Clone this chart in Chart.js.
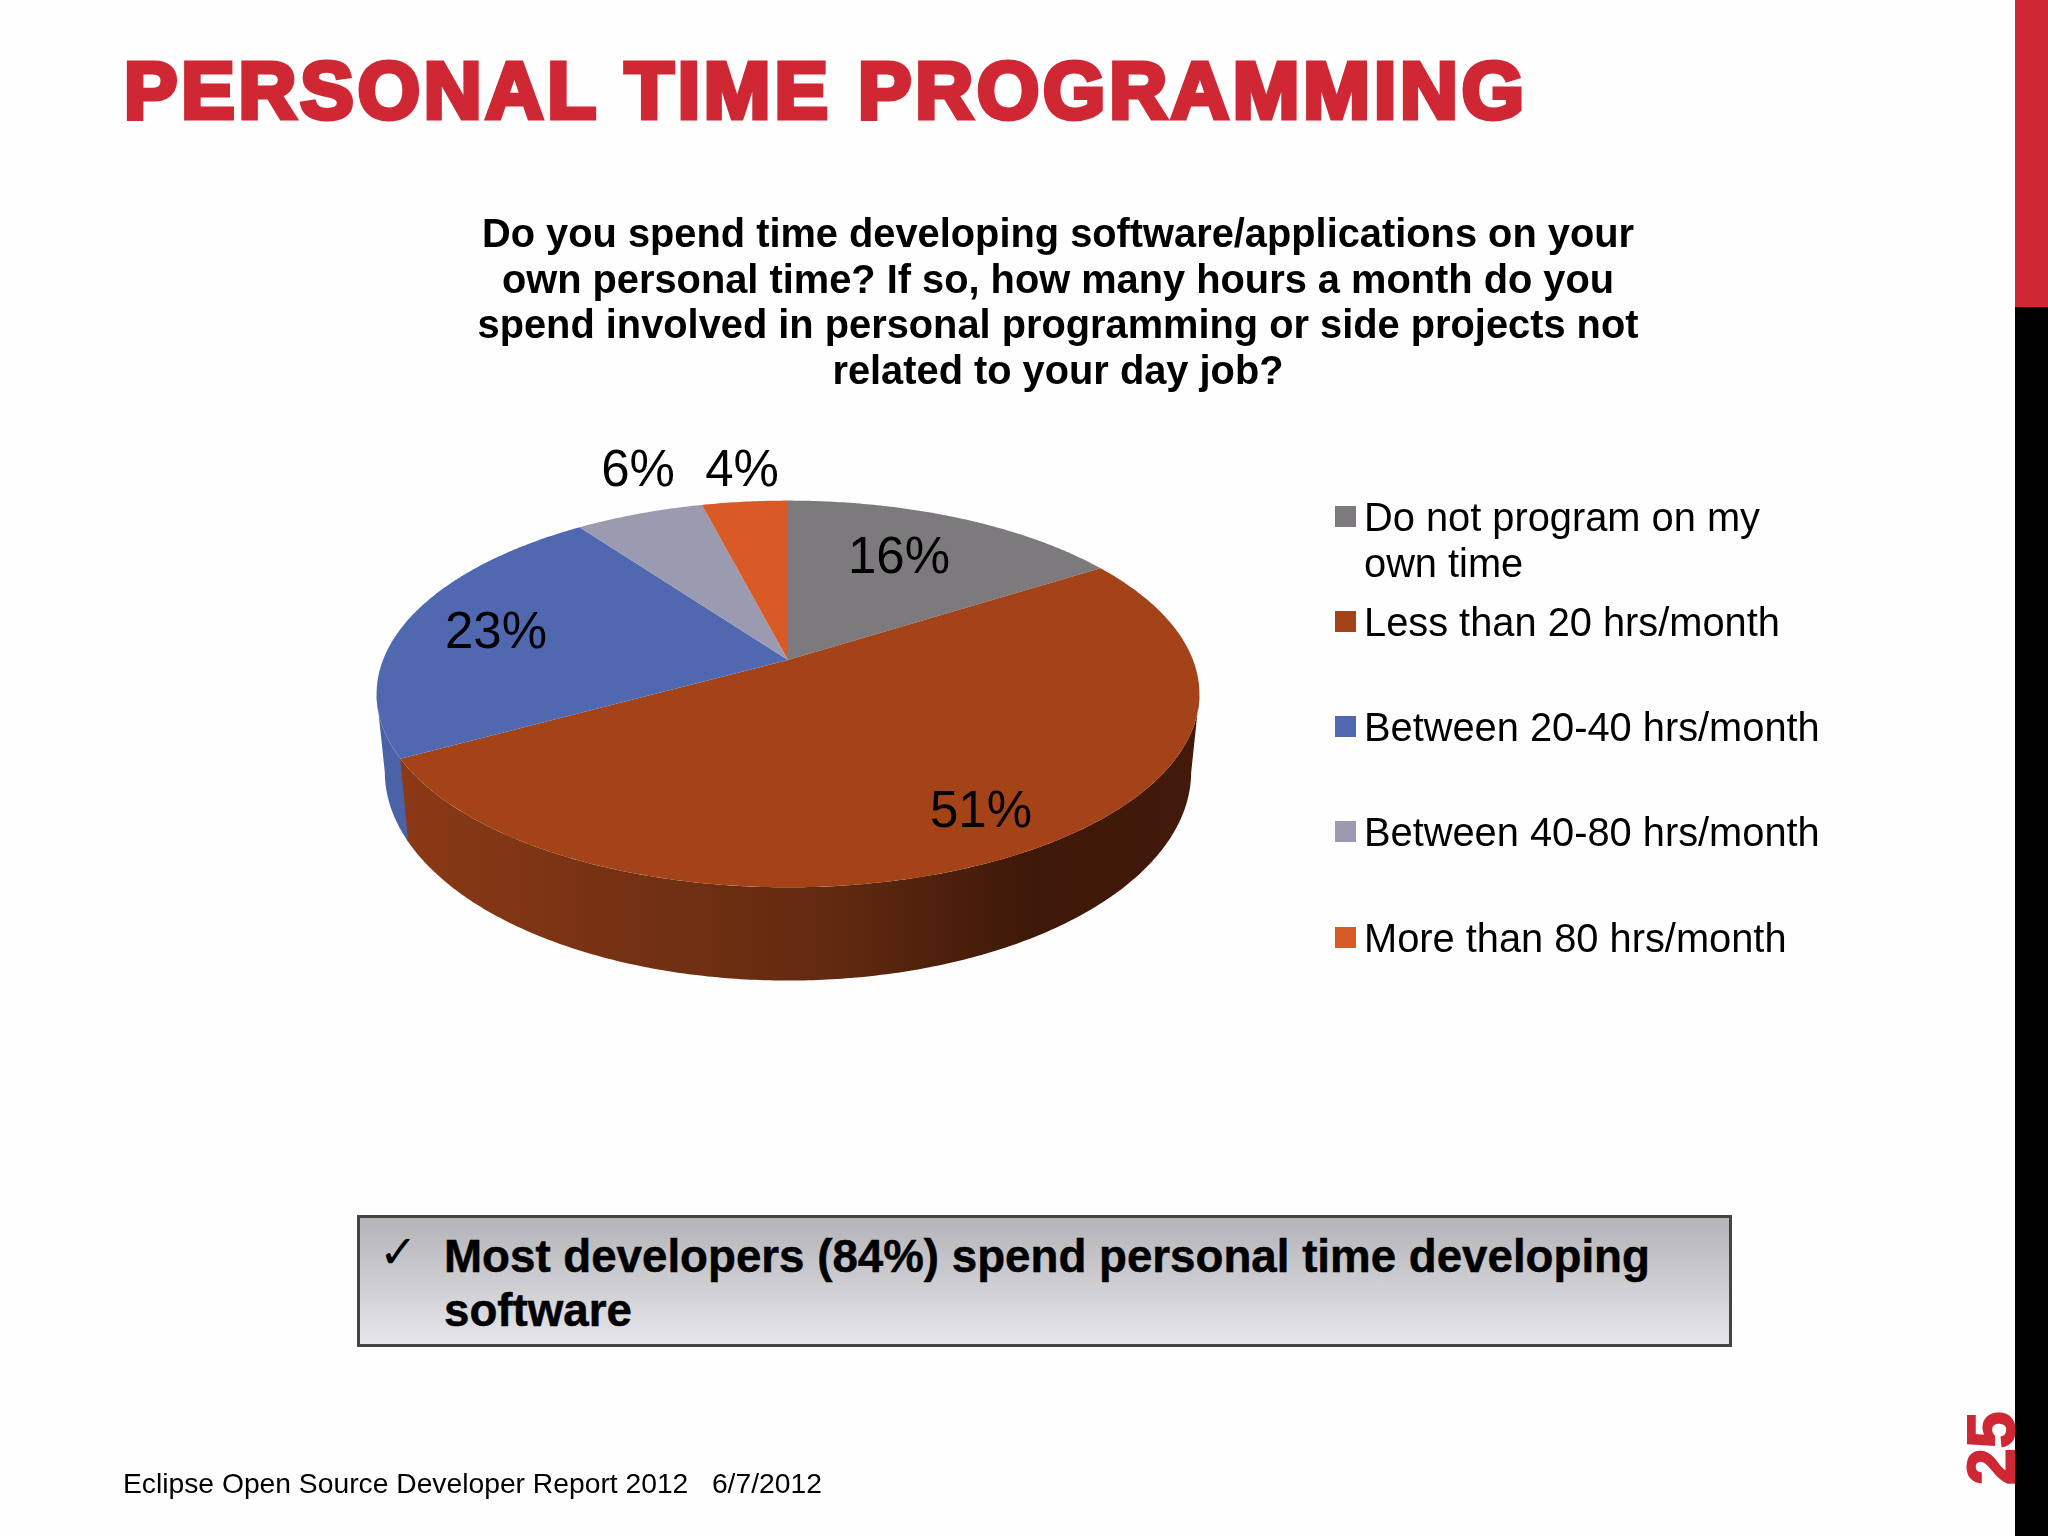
<!DOCTYPE html>
<html lang="en">
<head>
  <meta charset="UTF-8" />
  <title>Personal Time Programming</title>
  <script src="https://cdn.jsdelivr.net/npm/chart.js"></script>
  <style>
    html, body { margin: 0; padding: 0; background: #fefefe; }
    #page { position: relative; width: 2048px; height: 1536px; overflow: hidden; font-family: "Liberation Sans", Arial, sans-serif; color: #000; }
    #page > * { position: absolute; }
    canvas { left: 0; top: 0; }
    h1 { left: 124px; top: 46px; margin: 0; font-size: 80px; line-height: 90px; font-weight: 900; color: #cf2733; white-space: nowrap; -webkit-text-stroke: 5px #cf2733; letter-spacing: 3.95px; }
    #question { left: 458px; top: 211px; width: 1200px; text-align: center; font-size: 39.8px; line-height: 45.7px; font-weight: bold; }
    .legend-row { left: 1335px; font-size: 39.8px; line-height: 46px; white-space: nowrap; }
    .legend-box { position: absolute; left: 0; top: 12px; width: 21px; height: 21px; }
    .legend-row span { display: block; margin-left: 29px; }
    #note { left: 357px; top: 1215px; width: 1375px; height: 132px; box-sizing: border-box; border: 3px solid #444; background: linear-gradient(#b4b4b8, #e6e6ea); }
    #note b { position: absolute; left: 84px; top: 12px; font-size: 45.7px; line-height: 54px; width: 1270px; -webkit-text-stroke: 0.5px #000; }
    #note i { position: absolute; left: 19px; top: 7px; font-style: normal; font-family: "DejaVu Sans", sans-serif; font-size: 46px; }
    #footer { left: 123px; top: 1467px; font-size: 28.25px; white-space: pre; }
    #bar-red { left: 2015px; top: 0; width: 33px; height: 307px; background: #cf2733; }
    #bar-black { left: 2015px; top: 307px; width: 33px; height: 1229px; background: #000; }
    #num { left: 1961px; top: 1420px; width: 60px; height: 70px; font-size: 66px; font-weight: bold; color: #cf2733; transform: rotate(-90deg); line-height: 70px; text-align: center; -webkit-text-stroke: 2px #cf2733; }
  </style>
</head>
<body>
<div id="page">
  <canvas id="pie" width="2048" height="1536"></canvas>
  <h1>PERSONAL TIME PROGRAMMING</h1>
  <div id="question">Do you spend time developing software/applications on your<br>own personal time? If so, how many hours a month do you<br>spend involved in personal programming or side projects not<br>related to your day job?</div>
  <div id="note"><i>✓</i><b>Most developers (84%) spend personal time developing software</b></div>
  <div id="footer">Eclipse Open Source Developer Report 2012   6/7/2012</div>
  <div id="num">25</div>
  <div id="bar-red"></div>
  <div id="bar-black"></div>
</div>
<script>
const categories = ['Do not program on my own time', 'Less than 20 hrs/month', 'Between 20-40 hrs/month', 'Between 40-80 hrs/month', 'More than 80 hrs/month'];
const values = [16, 51, 23, 6, 4];
const colors = ['#7c7a7c', '#a44218', '#5068b0', '#9a9ab0', '#d85a26'];
const wallColors = ['#5a585a', '#8c3a16', '#4a62a6', '#77778a', '#a84a20'];
const legendTops = [494, 599, 704, 809, 915];
// label offsets from the pie centre, in px
const labelSpots = [[111, -101], [193, 153], [-292, -26], [-150, -188], [-46, -188]];

// legend
categories.forEach((c, i) => {
  const row = document.createElement('div');
  row.className = 'legend-row';
  row.style.top = legendTops[i] + 'px';
  row.innerHTML = '<div class="legend-box" style="background:' + colors[i] + '"></div><span>' +
    (i === 0 ? 'Do not program on my<br>own time' : c) + '</span>';
  document.getElementById('page').appendChild(row);
});

// perspective of the tilted disc: circle point -> screen point
const PERSP = 0.1757, FLAT = 0.4627;
function project(el, ang, scale, dy, flat) {
  const u = Math.cos(ang), v = -Math.sin(ang), d = 1 + PERSP * v;
  const R = el.outerRadius * scale;
  return { x: el.x + R * u / d, y: el.y + dy - R * flat * v / d };
}

function wallGradient(ctx, el) {
  const g = ctx.createLinearGradient(el.x - el.outerRadius, 0, el.x + el.outerRadius, 0);
  g.addColorStop(0, wallColors[1]);
  g.addColorStop(0.55, '#622a10');
  g.addColorStop(0.8, '#3e1808');
  g.addColorStop(1, '#42190a');
  return g;
}

const pie3d = {
  id: 'pie3d',
  beforeDatasetDraw(chart, args) {
    const ctx = chart.ctx;
    const arcs = args.meta.data;
    const DEPTH = 75, SHRINK = 0.98, BOTTOM_FLAT = 0.51, SIDE = 0.18;
    ctx.save();
    // side wall first, only the front of the disc shows
    arcs.forEach((el, i) => {
      const lo = Math.max(el.startAngle, SIDE), hi = Math.min(el.endAngle + 0.01, Math.PI - SIDE);
      if (hi <= lo) return;
      ctx.beginPath();
      for (let a = lo; a < hi; a += 0.01) {
        const p = project(el, a, 1, 0, FLAT);
        ctx.lineTo(p.x, p.y);
      }
      const t = project(el, hi, 1, 0, FLAT), b = project(el, hi, SHRINK, DEPTH, BOTTOM_FLAT);
      ctx.lineTo(t.x, t.y);
      ctx.lineTo(b.x, b.y);
      for (let a = hi; a > lo; a -= 0.01) {
        const p = project(el, a, SHRINK, DEPTH, BOTTOM_FLAT);
        ctx.lineTo(p.x, p.y);
      }
      const e = project(el, lo, SHRINK, DEPTH, BOTTOM_FLAT);
      ctx.lineTo(e.x, e.y);
      ctx.closePath();
      ctx.fillStyle = i === 1 ? wallGradient(ctx, el) : wallColors[i];
      ctx.fill();
    });
    // top face
    arcs.forEach((el, i) => {
      ctx.beginPath();
      ctx.moveTo(el.x, el.y);
      for (let a = el.startAngle; a < el.endAngle; a += 0.01) {
        const p = project(el, a, 1, 0, FLAT);
        ctx.lineTo(p.x, p.y);
      }
      const e = project(el, el.endAngle, 1, 0, FLAT);
      ctx.lineTo(e.x, e.y);
      ctx.closePath();
      ctx.fillStyle = colors[i];
      ctx.fill();
    });
    // percent labels
    ctx.fillStyle = '#000';
    ctx.font = '51px "Liberation Sans"';
    ctx.textAlign = 'center';
    ctx.textBaseline = 'middle';
    arcs.forEach((el, i) => {
      ctx.fillText(values[i] + '%', el.x + labelSpots[i][0], el.y + labelSpots[i][1]);
    });
    ctx.restore();
    return false;
  }
};

new Chart(document.getElementById('pie'), {
  type: 'pie',
  data: { labels: categories, datasets: [{ data: values, backgroundColor: colors, borderWidth: 0 }] },
  options: {
    responsive: false,
    animation: false,
    layout: { padding: { left: 383, right: 855, top: 255, bottom: 471 } },
    plugins: { legend: { display: false }, tooltip: { enabled: false } }
  },
  plugins: [pie3d]
});
</script>
</body>
</html>
